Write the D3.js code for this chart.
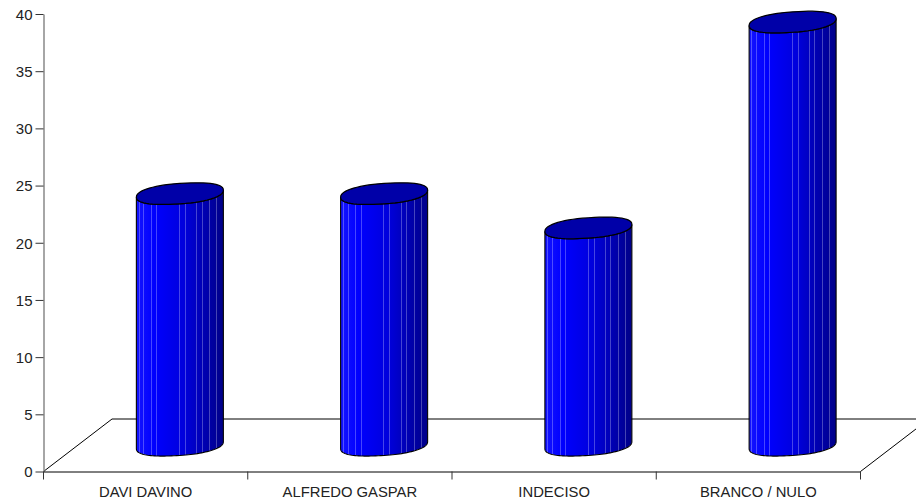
<!DOCTYPE html>
<html><head><meta charset="utf-8">
<script src="https://cdn.jsdelivr.net/npm/d3@7"></script>
<style>html,body{margin:0;padding:0;background:#fff}svg{display:block}</style></head>
<body><svg id="c" width="916" height="503"></svg>
<script>
const categories = ["DAVI DAVINO","ALFREDO GASPAR","INDECISO","BRANCO / NULO"];
const values = [22,22,19,37];
const yTicks = [0,5,10,15,20,25,30,35,40];

const svg = d3.select("#c");
const y = d3.scaleLinear().domain([0,40]).range([471.5,14]);
const x = d3.scaleBand().domain(categories).range([43.5,860.5]);
const depth = {dx:68.5, dy:-52.5};
const rx = 43.5, ry = 10.2, skew = 3.5;

// floor
const floorFront = y(0), x0 = x.range()[0], x1 = x.range()[1];
const line = (a,b,c,d,w,col)=>svg.append("line").attr("x1",a).attr("y1",b).attr("x2",c).attr("y2",d).attr("stroke",col||"#000").attr("stroke-width",w||1);
line(x0,floorFront,x0+depth.dx,floorFront+depth.dy);
line(x0+depth.dx,floorFront+depth.dy,916,floorFront+depth.dy);
line(x1,floorFront,x1+depth.dx,floorFront+depth.dy);

// side shading
const grad = svg.append("defs").append("linearGradient").attr("id","side");
[[0,"#1414ff"],[0.2,"#0000ff"],[0.55,"#0000dc"],[1,"#000088"]].forEach(s=>
  grad.append("stop").attr("offset",s[0]).attr("stop-color",s[1]));

// cylinders
const bars = svg.append("g");
const lightLines = [0.025,0.08,0.17,0.23,0.49,0.56,0.69,0.75,0.84,0.92];
const fat = v => Math.sign(v)*Math.pow(Math.abs(v),0.88);
categories.forEach((c,i)=>{
  const cx = x(c)+x.bandwidth()/2+depth.dx/2;
  const base = y(0)+depth.dy/2;
  const top = y(values[i])+depth.dy/2;
  const edge = (cy,a,b)=>d3.range(0,61).map(k=>{
    const t = a+(b-a)*k/60;
    return [cx+rx*fat(Math.cos(t)), cy-skew*Math.cos(t)+ry*fat(Math.sin(t))];
  });
  const lower = edge(base,0,Math.PI);
  const upperFront = edge(top,Math.PI,0);
  const body = d3.line()(lower.concat(upperFront))+"Z";
  const id = "clip"+i;
  bars.append("clipPath").attr("id",id).append("path").attr("d",body);
  const g = bars.append("g").attr("clip-path",`url(#${id})`);
  g.append("path").attr("d",body).attr("fill","url(#side)");
  lightLines.forEach(f=>{
    g.append("rect").attr("x",Math.round(cx-rx+2*rx*f)).attr("y",top-15).attr("width",1).attr("height",base-top+40)
      .attr("fill","#fff").attr("fill-opacity",0.27);
  });
  bars.append("path").attr("d",body).attr("fill","none").attr("stroke","#000").attr("stroke-width",1.1);
  bars.append("path").attr("d",d3.line()(edge(top,0,2*Math.PI))+"Z")
    .attr("fill","#0000a8").attr("stroke","#000").attr("stroke-width",1.2);
});

// axes
const font = "Liberation Sans, Arial, sans-serif";
const ya = svg.append("g").attr("transform","translate(43.5,0)")
  .call(d3.axisLeft(y).tickValues(yTicks).tickSize(8).tickSizeOuter(0));
ya.select(".domain").attr("stroke","#808080").attr("stroke-width",1.4);
ya.selectAll(".tick line").attr("stroke","#333");
ya.selectAll("text").attr("font-family",font).attr("font-size",15).attr("fill","#222").attr("x",-11).attr("dy","0.36em");
const xa = svg.append("g").attr("transform",`translate(0,${y(0)})`)
  .call(d3.axisBottom(x).tickSize(0).tickSizeOuter(0));
xa.select(".domain").attr("stroke","#000").attr("stroke-width",1);
xa.selectAll("text").attr("font-family",font).attr("font-size",14.8).attr("fill","#222").attr("y",14.5).attr("dy","0.71em");
const bounds = x.domain().map(d=>x(d)).concat([x1]);
bounds.forEach(b=>line(b,y(0),b,y(0)+8,1,"#333"));
</script></body></html>
